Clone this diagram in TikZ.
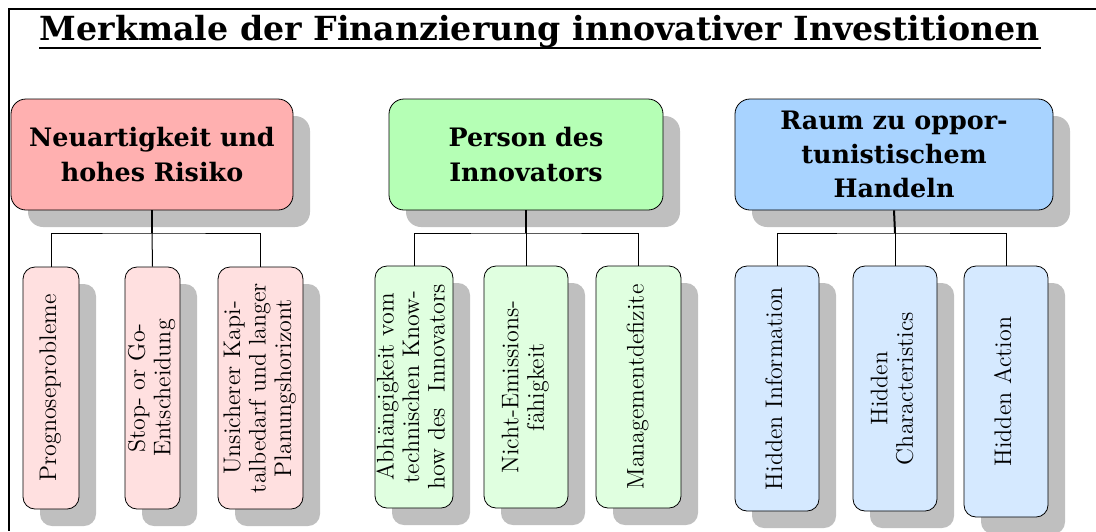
\documentclass[tikz,border=0pt]{standalone}
\usepackage{fontspec}
\usepackage{graphicx}
\usetikzlibrary{shadows}

\newfontfamily\slabserif{DejaVu Serif}

\definecolor{riskfill}{HTML}{FFB0B0}
\definecolor{riskkid}{HTML}{FFE0E0}
\definecolor{persfill}{HTML}{B5FFB5}
\definecolor{perskid}{HTML}{E0FFE0}
\definecolor{raumfill}{HTML}{A8D3FF}
\definecolor{raumkid}{HTML}{D5E9FF}

\newcommand\headfont{\slabserif\bfseries\fontsize{12.7}{17.2}\selectfont}
\newcommand\titlefont{\slabserif\bfseries\fontsize{16.6}{19}\selectfont}
\newcommand\vtext[1]{\rotatebox{90}{\fontsize{12}{12.8}\selectfont\begin{tabular}{@{}c@{}}#1\end{tabular}}}

\begin{document}
\begin{tikzpicture}[
    x=0.5pt, y=-0.5pt, % one unit = one pixel of the layout
    head/.style={draw, rounded corners=7.5pt, align=center, inner sep=0pt,
        minimum height=55.5pt, font=\headfont,
        drop shadow={shadow xshift=8.5pt, shadow yshift=-8.5pt, fill=gray!50, opacity=1}},
    kid/.style={draw, rounded corners=6pt, inner sep=0pt,
        drop shadow={shadow xshift=8.5pt, shadow yshift=-8.5pt, fill=gray!50, opacity=1}},
    stemline/.style={line width=1pt},
    branchline/.style={line width=0.5pt}
]
\useasboundingbox (0,0) rectangle (1096,531);

% frame and title
\draw[line width=1pt] (1096,9) -| (8.5,531);
\node[font=\titlefont, inner sep=0pt, anchor=base] (title) at (540,40)
    {Merkmale der Finanzierung innovativer Investitionen};
\draw[line width=1pt] ([yshift=-4pt]title.base west) -- ([yshift=-4pt]title.base east);

% Neuartigkeit und hohes Risiko
\node[head, fill=riskfill, minimum width=141pt] (risk) at (152,154.5)
    {Neuartigkeit und\\hohes Risiko};
\node[kid, fill=riskkid, minimum width=28pt, minimum height=121pt] (prog) at (51,388)
    {\vtext{Prognoseprobleme}};
\node[kid, fill=riskkid, minimum width=27.5pt, minimum height=121pt] (stop) at (152.5,388)
    {\vtext{Stop- or Go-\\Entscheidung}};
\node[kid, fill=riskkid, minimum width=42.5pt, minimum height=121pt] (kapital) at (260.5,388)
    {\vtext{Unsicherer Kapi-\\talbedarf und langer\\Planungshorizont}};
\coordinate (riskbar) at (152,233);
\draw[stemline] (risk.south) -- (riskbar);
\draw[branchline] (prog.north) |- (riskbar) -| (kapital.north);
\draw[branchline] (riskbar) -- (stop.north);

% Person des Innovators
\node[head, fill=persfill, minimum width=137pt] (person) at (526,154.5)
    {Person des\\Innovators};
\node[kid, fill=perskid, minimum width=39pt, minimum height=121pt] (knowhow) at (414,387)
    {\vtext{Abhängigkeit vom\\technischen Know-\\how des\ \ Innovators}};
\node[kid, fill=perskid, minimum width=42pt, minimum height=121pt] (emission) at (526,387)
    {\vtext{Nicht-Emissions-\\fähigkeit}};
\node[kid, fill=perskid, minimum width=42.5pt, minimum height=121pt] (mgmt) at (638.5,387)
    {\vtext{Managementdefizite}};
\coordinate (persbar) at (526,233);
\draw[stemline] (person.south) -- (persbar);
\draw[branchline] (knowhow.north) |- (persbar) -| (mgmt.north);
\draw[branchline] (persbar) -- (emission.north);

% Raum zu opportunistischem Handeln
\node[head, fill=raumfill, minimum width=159pt] (raum) at (894,154.5)
    {Raum zu oppor-\\tunistischem\\Handeln};
\node[kid, fill=raumkid, minimum width=42pt, minimum height=122.5pt] (hinfo) at (777,388.5)
    {\vtext{Hidden Information}};
\node[kid, fill=raumkid, minimum width=42pt, minimum height=122.5pt] (hchar) at (895,388.5)
    {\vtext{Hidden\\Characteristics}};
\node[kid, fill=raumkid, minimum width=42pt, minimum height=125.5pt] (haction) at (1006,391.5)
    {\vtext{Hidden Action}};
\coordinate (raumbar) at (895,233);
\draw[stemline] (raum.south) -- (raumbar);
\draw[branchline] (hinfo.north) |- (raumbar) -| (haction.north);
\draw[branchline] (raumbar) -- (hchar.north);

\end{tikzpicture}
\end{document}
